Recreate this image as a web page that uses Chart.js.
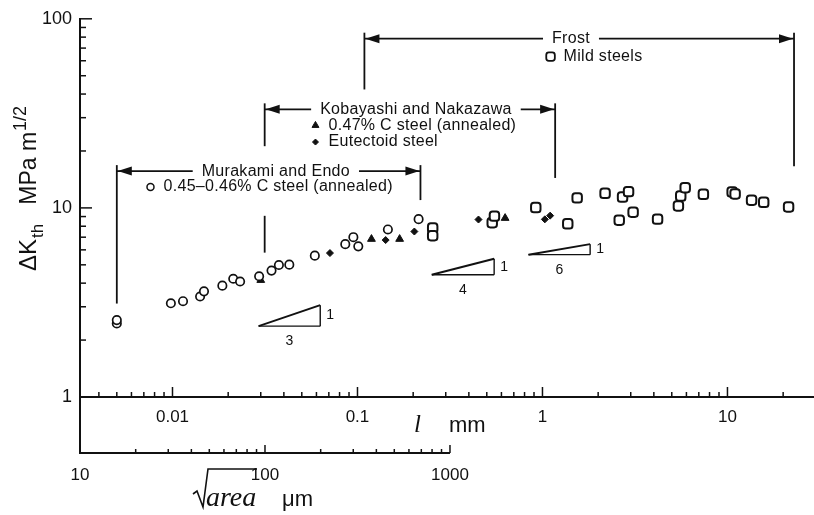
<!DOCTYPE html>
<html>
<head>
<meta charset="utf-8">
<script src="https://cdn.jsdelivr.net/npm/chart.js@4.4.0/dist/chart.umd.min.js"></script>
<style>
  html, body { margin: 0; padding: 0; background: #fff; }
  canvas { display: block; }
</style>
</head>
<body>
<canvas id="thresholdChart" width="814" height="515"></canvas>
<script>
// crack size l (mm) against threshold dK_th (MPa m^1/2)
const murakamiL = [0.005, 0.005, 0.0098, 0.0114, 0.0141, 0.0148, 0.0186, 0.0213, 0.0232, 0.0294, 0.0343, 0.0376, 0.0428, 0.0588, 0.0859, 0.095, 0.101, 0.146, 0.214];
const murakamiK = [2.45, 2.55, 3.13, 3.21, 3.40, 3.62, 3.88, 4.22, 4.08, 4.35, 4.66, 4.99, 5.01, 5.59, 6.43, 7.0, 6.26, 7.69, 8.72];

const kobayashiL = [0.030, 0.119, 0.169, 0.628];
const kobayashiK = [4.15, 6.84, 6.84, 8.83];

const eutectoidL = [0.071, 0.142, 0.203, 0.451, 1.03, 1.10];
const eutectoidK = [5.77, 6.76, 7.50, 8.68, 8.7, 9.1];

const frostL = [0.255, 0.255, 0.535, 0.55, 0.92, 1.37, 1.54, 2.18, 2.60, 2.71, 2.92, 3.09, 4.19, 5.43, 5.59, 5.91, 7.41, 10.6, 11.0, 13.5, 15.7, 21.4];
const frostK = [7.82, 7.13, 8.35, 9.05, 10.04, 8.24, 11.3, 11.95, 8.61, 11.42, 12.19, 9.49, 8.72, 10.24, 11.56, 12.79, 11.8, 12.14, 11.85, 10.98, 10.7, 10.12];

const lTicks = [0.01, 0.1, 1, 10];
const kTicks = [1, 10, 100];
const areaTicks = [10, 100, 1000];
const slopes = [3, 4, 6];

// sqrt(area) = sqrt(10) * l for these cracks, in micrometres
const areaPerMm = 1000 * Math.sqrt(10);

const SANS = '"Liberation Sans", Arial, sans-serif';
const SERIF = '"Liberation Serif", "Times New Roman", serif';
const INK = '#111';

const toPoints = (xs, ys) => xs.map((x, i) => ({ x: x, y: ys[i] }));
const inList = (v, list) => list.some(t => Math.abs(Math.log10(v) - Math.log10(t)) < 1e-6);

// where the range brackets and notes sit (data units)
const ranges = [
    {
        title: 'Murakami and Endo', from: 0.005, to: 0.219, y: 15.65, titleAt: 0.0362,
        left: [[null, 3.12]], right: [[null, 11.0]],
        items: [{ text: '0.45\u20130.46% C steel (annealed)', x: 0.00894, y: 12.9, style: 'circle' }]
    },
    {
        title: 'Kobayashi and Nakazawa', from: 0.0315, to: 1.171, y: 33.2, titleAt: 0.207,
        left: [[null, 21.2], [9.08, 5.8]], right: [[null, 14.4]],
        items: [
            { text: '0.47% C steel (annealed)', x: 0.0697, y: 27.3, style: 'triangle' },
            { text: 'Eutectoid steel', x: 0.0697, y: 22.3, style: 'rectRot' }
        ]
    },
    {
        title: 'Frost', from: 0.109, to: 22.9, y: 78.5, titleAt: 1.426,
        left: [[null, 42.3]], right: [[null, 16.6]],
        items: [{ text: 'Mild steels', x: 1.30, y: 63.1, style: 'rectRounded' }]
    }
];

const slopeSpots = [
    { x0: 0.0292, y0: 2.37, x1: 0.0629 },
    { x0: 0.252, y0: 4.43, x1: 0.548 },
    { x0: 0.84, y0: 5.66, x1: 1.81 }
];

const markerLook = {
    circle: { radius: 3.5, borderWidth: 1.5, fill: '#fff' },
    triangle: { radius: 4, borderWidth: 1, fill: INK },
    rectRot: { radius: 3, borderWidth: 1, fill: INK },
    rectRounded: { radius: 5, borderWidth: 1.8, fill: '#fff' }
};

function drawMarker(ctx, style, x, y) {
    const look = markerLook[style];
    ctx.save();
    ctx.fillStyle = look.fill;
    ctx.strokeStyle = INK;
    ctx.lineWidth = look.borderWidth;
    Chart.helpers.drawPoint(ctx, { pointStyle: style, radius: look.radius, rotation: 0, borderWidth: look.borderWidth }, x, y);
    ctx.restore();
}

function arrowHead(ctx, x, y, dir) {
    ctx.beginPath();
    ctx.moveTo(x, y);
    ctx.lineTo(x - dir * 14, y - 4.5);
    ctx.lineTo(x - dir * 14, y + 4.5);
    ctx.closePath();
    ctx.fill();
}

function line(ctx, x1, y1, x2, y2) {
    ctx.beginPath();
    ctx.moveTo(x1, y1);
    ctx.lineTo(x2, y2);
    ctx.stroke();
}

// inward tick marks for a log axis, decade by decade
function logTicks(scale, lo, hi, draw) {
    for (let e = Math.floor(Math.log10(lo)) ; e <= Math.ceil(Math.log10(hi)); e++) {
        for (let d = 1; d <= 9; d++) {
            const v = d * Math.pow(10, e);
            if (v < lo * 0.9999 || v > hi * 1.0001) continue;
            draw(scale.getPixelForValue(v), d === 1);
        }
    }
}

const notesPlugin = {
    id: 'notes',
    afterDraw(chart) {
        const ctx = chart.ctx;
        const xs = chart.scales.x, ys = chart.scales.y, x2 = chart.scales.x2;
        const area = chart.chartArea;
        const X = v => xs.getPixelForValue(v);
        const Y = v => ys.getPixelForValue(v);
        const lowerY = area.bottom + 56;

        ctx.save();
        ctx.strokeStyle = INK;
        ctx.fillStyle = INK;

        // tick marks on the two main axes
        ctx.lineWidth = 1.5;
        logTicks(ys, ys.min, ys.max, (p, major) => line(ctx, area.left, p, area.left + (major ? 12 : 6), p));
        logTicks(xs, xs.min, xs.max, (p, major) => line(ctx, p, area.bottom, p, area.bottom - (major ? 10 : 5)));

        // left axis runs on down to the sqrt(area) axis
        ctx.lineWidth = 2;
        line(ctx, area.left, area.bottom, area.left, lowerY + 1);

        // sqrt(area) axis, only drawn from 10 to 1000 um
        const aMax = areaTicks[areaTicks.length - 1];
        line(ctx, x2.getPixelForValue(x2.min), lowerY, x2.getPixelForValue(aMax), lowerY);
        ctx.lineWidth = 1.5;
        logTicks(x2, x2.min, aMax, (p, major) => line(ctx, p, lowerY, p, lowerY - (major ? 8 : 4)));
        ctx.font = '17px ' + SANS;
        ctx.textAlign = 'center';
        ctx.textBaseline = 'middle';
        areaTicks.forEach(t => ctx.fillText(String(t), x2.getPixelForValue(t), lowerY + 22));

        // axis titles
        ctx.textAlign = 'left';
        ctx.textBaseline = 'alphabetic';
        ctx.font = 'italic 25px ' + SERIF;
        ctx.fillText('l', 414, 432);
        ctx.font = '22px ' + SANS;
        ctx.fillText('mm', 449, 432);

        ctx.lineWidth = 1.6;
        ctx.beginPath();
        ctx.moveTo(193, 494);
        ctx.lineTo(197, 491);
        ctx.lineTo(203, 507);
        ctx.lineTo(208, 469);
        ctx.lineTo(257, 469);
        ctx.stroke();
        ctx.font = 'italic 28px ' + SERIF;
        ctx.fillText('area', 206, 506);
        ctx.font = '22px ' + SANS;
        ctx.fillText('\u03bcm', 282, 506);

        ctx.save();
        ctx.translate(36, 271);
        ctx.rotate(-Math.PI / 2);
        let tx = 0;
        ctx.font = '24px ' + SANS;
        ctx.fillText('\u0394K', tx, 0);
        tx += ctx.measureText('\u0394K').width + 1;
        ctx.font = '17px ' + SANS;
        ctx.fillText('th', tx, 7);
        tx += ctx.measureText('th').width + 19;
        ctx.font = '23px ' + SANS;
        ctx.fillText('MPa m', tx, 0);
        tx += ctx.measureText('MPa m').width + 1;
        ctx.font = '18px ' + SANS;
        ctx.fillText('1/2', tx, -10);
        ctx.restore();

        // range brackets with their notes
        ctx.letterSpacing = '0.3px';
        ranges.forEach(r => {
            const xa = X(r.from), xb = X(r.to), yl = Y(r.y);
            ctx.font = '16px ' + SANS;
            const tw = ctx.measureText(r.title).width;
            const tc = X(r.titleAt);
            ctx.lineWidth = 1.8;
            line(ctx, xa, yl, tc - tw / 2 - 9, yl);
            line(ctx, tc + tw / 2 + 9, yl, xb, yl);
            arrowHead(ctx, xa + 1, yl, -1);
            arrowHead(ctx, xb - 1, yl, 1);
            r.left.forEach(s => line(ctx, xa, s[0] === null ? yl - 6 : Y(s[0]), xa, Y(s[1])));
            r.right.forEach(s => line(ctx, xb, s[0] === null ? yl - 6 : Y(s[0]), xb, Y(s[1])));
            ctx.textAlign = 'center';
            ctx.textBaseline = 'middle';
            ctx.fillText(r.title, tc, yl);
            ctx.textAlign = 'left';
            r.items.forEach(it => {
                const ix = X(it.x), iy = Y(it.y);
                ctx.fillText(it.text, ix, iy);
                drawMarker(ctx, it.style, ix - 13, iy);
            });
        });
        ctx.letterSpacing = '0px';

        // slope triangles
        slopeSpots.forEach((s, i) => {
            const n = slopes[i];
            const yTop = s.y0 * Math.pow(s.x1 / s.x0, 1 / n);
            const a = X(s.x0), b = X(s.x1), y0 = Y(s.y0), y1 = Y(yTop);
            ctx.lineWidth = 1.4;
            line(ctx, a, y0, b, y0);
            line(ctx, b, y0, b, y1);
            ctx.lineWidth = 2;
            line(ctx, a, y0, b, y1);
            ctx.font = '14px ' + SANS;
            ctx.textAlign = 'left';
            ctx.textBaseline = 'middle';
            ctx.fillText('1', b + 6, (y0 + y1) / 2);
            ctx.textAlign = 'center';
            ctx.fillText(String(n), (a + b) / 2, y0 + 15);
        });

        ctx.restore();
    }
};

const tickFont = { family: SANS, size: 17 };

new Chart(document.getElementById('thresholdChart'), {
    type: 'scatter',
    data: {
        datasets: [
            {
                label: '0.45-0.46% C steel (annealed)',
                data: toPoints(murakamiL, murakamiK),
                pointStyle: 'circle',
                pointRadius: 4.2,
                borderWidth: 1.7,
                borderColor: INK,
                backgroundColor: '#fff'
            },
            {
                label: '0.47% C steel (annealed)',
                data: toPoints(kobayashiL, kobayashiK),
                pointStyle: 'triangle',
                pointRadius: 4.5,
                borderWidth: 1,
                borderColor: INK,
                backgroundColor: INK
            },
            {
                label: 'Eutectoid steel',
                data: toPoints(eutectoidL, eutectoidK),
                pointStyle: 'rectRot',
                pointRadius: 3.5,
                borderWidth: 1,
                borderColor: INK,
                backgroundColor: INK
            },
            {
                label: 'Mild steels',
                data: toPoints(frostL, frostK),
                pointStyle: 'rectRounded',
                pointRadius: 5.5,
                borderWidth: 2,
                borderColor: INK,
                backgroundColor: '#fff'
            }
        ]
    },
    options: {
        responsive: false,
        animation: false,
        devicePixelRatio: 1,
        layout: { autoPadding: false, padding: { top: 17, right: 1, left: 0, bottom: 0 } },
        plugins: {
            legend: { display: false },
            tooltip: { enabled: false }
        },
        scales: {
            x: {
                type: 'logarithmic',
                position: 'bottom',
                min: 10 / areaPerMm,
                max: 29,
                afterFit: s => { s.height = 118; s.paddingLeft = 0; s.paddingRight = 0; },
                grid: { display: false, drawTicks: false },
                border: { display: true, color: INK, width: 2 },
                ticks: {
                    autoSkip: false,
                    maxRotation: 0,
                    padding: 10,
                    color: INK,
                    font: tickFont,
                    callback: v => inList(v, lTicks) ? String(lTicks.find(t => inList(v, [t]))) : ''
                }
            },
            x2: {
                type: 'logarithmic',
                position: 'bottom',
                display: false,
                min: 10,
                max: 29 * areaPerMm
            },
            y: {
                type: 'logarithmic',
                min: 1,
                max: 100,
                afterFit: s => { s.width = 80; },
                grid: { display: false, drawTicks: false },
                border: { display: true, color: INK, width: 2 },
                ticks: {
                    autoSkip: false,
                    padding: 8,
                    color: INK,
                    font: { family: SANS, size: 18 },
                    callback: v => inList(v, kTicks) ? String(kTicks.find(t => inList(v, [t]))) : ''
                }
            }
        }
    },
    plugins: [notesPlugin]
});
</script>
</body>
</html>
